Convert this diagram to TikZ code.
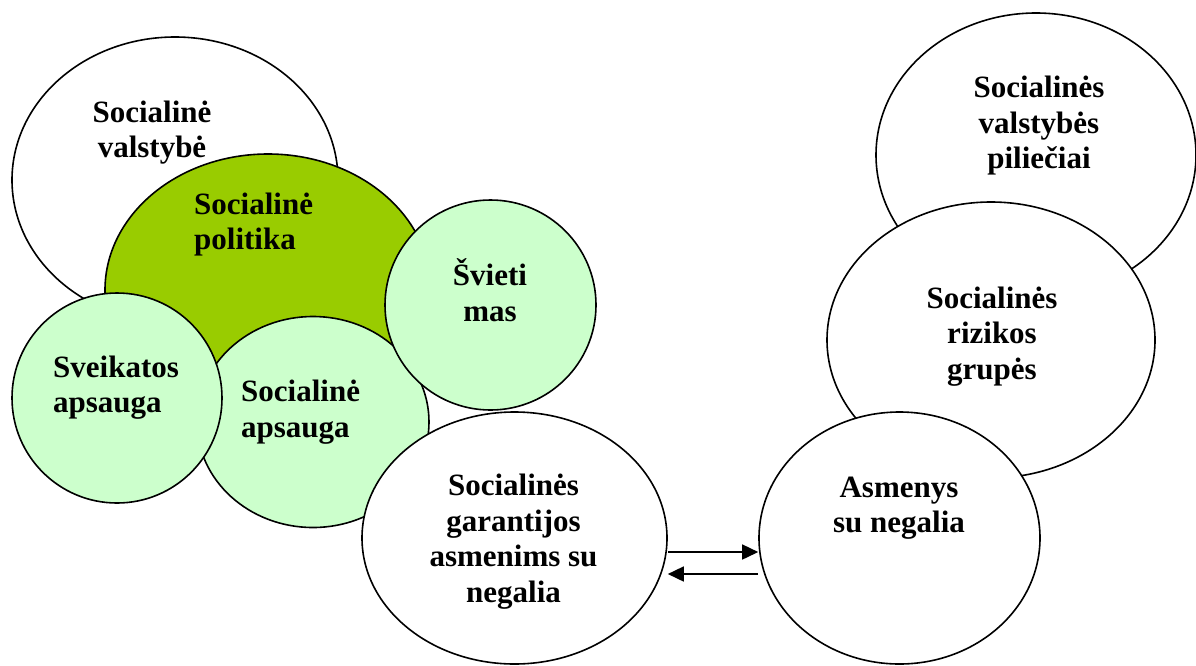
\documentclass[tikz,border=0pt]{standalone}
\usepackage{fontspec}
\setmainfont{Liberation Serif}
\usetikzlibrary{shapes.geometric,arrows.meta,calc}
\definecolor{polgreen}{HTML}{99CC00}
\definecolor{lightgr}{HTML}{CCFFCC}
\tikzset{
  ell/.style={ellipse, draw=black, line width=1.6pt, inner sep=0pt, fill=white},
  lbl/.style={inner sep=0pt, font=\bfseries\fontsize{31}{35.5}\selectfont, text=black},
  conn/.style={line width=1.6pt, -{Triangle[length=16pt,width=15pt]}}
}
\begin{document}
\begin{tikzpicture}[x=1pt,y=-1pt]
\useasboundingbox (0,0) rectangle (1196,665);
% right group
\node[ell, minimum width=320pt, minimum height=284pt] (pil) at (1036,155) {};
\node[ell, minimum width=328pt, minimum height=276pt] (riz) at (991,340) {};
\node[ell, minimum width=281pt, minimum height=252pt] (asm) at (899.5,538) {};
% left group
\node[ell, minimum width=326pt, minimum height=286pt] (valst) at (175,180) {};
\node[ell, fill=polgreen, minimum width=326pt, minimum height=272pt] (polit) at (268,290) {};
\node[ell, fill=lightgr, minimum width=232pt, minimum height=211pt] (apsaug) at (313,422) {};
\node[ell, fill=lightgr, minimum width=210pt, minimum height=210pt] (sveik) at (117,398) {};
\node[ell, fill=lightgr, minimum width=211pt, minimum height=210pt] (sviet) at (490.5,305) {};
\node[ell, minimum width=305pt, minimum height=252pt] (garant) at (514.5,538) {};
% texts (anchor = baseline of the last line)
\node[lbl, anchor=base, align=center] (tValst) at (152,157.5) {Socialinė\\valstybė};
\node[lbl, anchor=base west, align=left] (tPolit) at (194,249.5) {Socialinė\\politika};
\node[lbl, anchor=base, align=center] (tSviet) at (490,321) {Švieti\\mas};
\node[lbl, anchor=base west, align=left] (tSveik) at (53,412.5) {Sveikatos\\apsauga};
\node[lbl, anchor=base west, align=left] (tApsaug) at (241,437) {Socialinė\\apsauga};
\node[lbl, anchor=base, align=center] (tGarant) at (513.5,602) {Socialinės\\garantijos\\asmenims su\\negalia};
\node[lbl, anchor=base, align=center] (tAsm) at (899,532.5) {Asmenys\\su negalia};
\node[lbl, anchor=base, align=center] (tRiz) at (992,379) {Socialinės\\rizikos\\grupės};
\node[lbl, anchor=base, align=center] (tPil) at (1039,168.5) {Socialinės\\valstybės\\piliečiai};
% connectors
\draw[conn] ($(garant.east)+(0,14)$) -- ($(asm.west)+(0,14)$);
\draw[conn] ($(asm.west)+(0,36)$) -- ($(garant.east)+(0,36)$);
\end{tikzpicture}
\end{document}
